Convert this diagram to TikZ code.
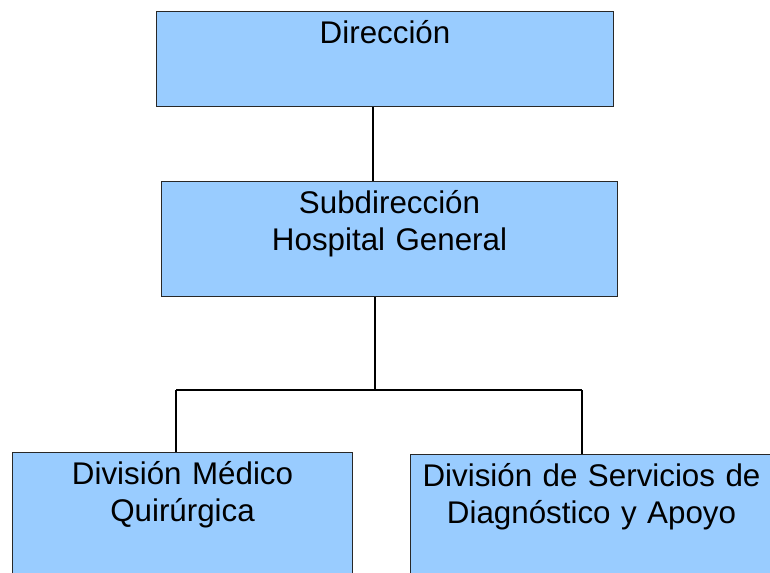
\documentclass[tikz,border=0pt]{standalone}
\usepackage{fontspec}
\setmainfont{Liberation Sans}
\usepackage{tikz}
\tikzstyle{chart} = [x = 0.75pt, y = -0.75pt]
\definecolor{boxColor}{RGB}{153,204,255}
\definecolor{edgeColor}{RGB}{40,40,40}
\tikzstyle{orgBoxStyle} = [draw=edgeColor, fill=boxColor, line width=0.8pt, rectangle, anchor=north west, inner xsep=0pt, inner ysep=0pt, align=center, text height=24pt, font=\fontsize{23.5}{27.5}\selectfont]
\tikzstyle{connLine} = [color=black, line width=0.9pt]
\newcommand{\orgBox}[5]{\node [orgBoxStyle, text width=#4, text depth=#5] (#1) at #2 {#3};}

\begin{document}
\begin{tikzpicture}[chart]
       \useasboundingbox (0,0) rectangle (770,572);
       \clip (0,0) rectangle (770,572);
       \orgBox{dir}{(156,11)}{Dirección}{342.75pt}{47.25pt}
       \orgBox{sub}{(161,181)}{Subdirección\\Hospital General}{342pt}{62.25pt}
       \orgBox{med}{(12,452)}{División Médico\\Quirúrgica}{255pt}{81pt}
       \orgBox{apoyo}{(410,454)}{División de Servicios de\\Diagnóstico y Apoyo}{271.5pt}{81pt}

       \coordinate (axisDir) at (373,0);
       \coordinate (fork) at (375,390);
       \coordinate (legMed) at (176,390);
       \coordinate (legApoyo) at (582,390);
       \draw [connLine] (dir.south -| axisDir) -- (sub.north -| axisDir);
       \draw [connLine] (sub.south -| fork) -- (fork);
       \draw [connLine] (legMed) -- (legApoyo);
       \draw [connLine] (legMed) -- (med.north -| legMed);
       \draw [connLine] (legApoyo) -- (apoyo.north -| legApoyo);
     \end{tikzpicture}
\end{document}
